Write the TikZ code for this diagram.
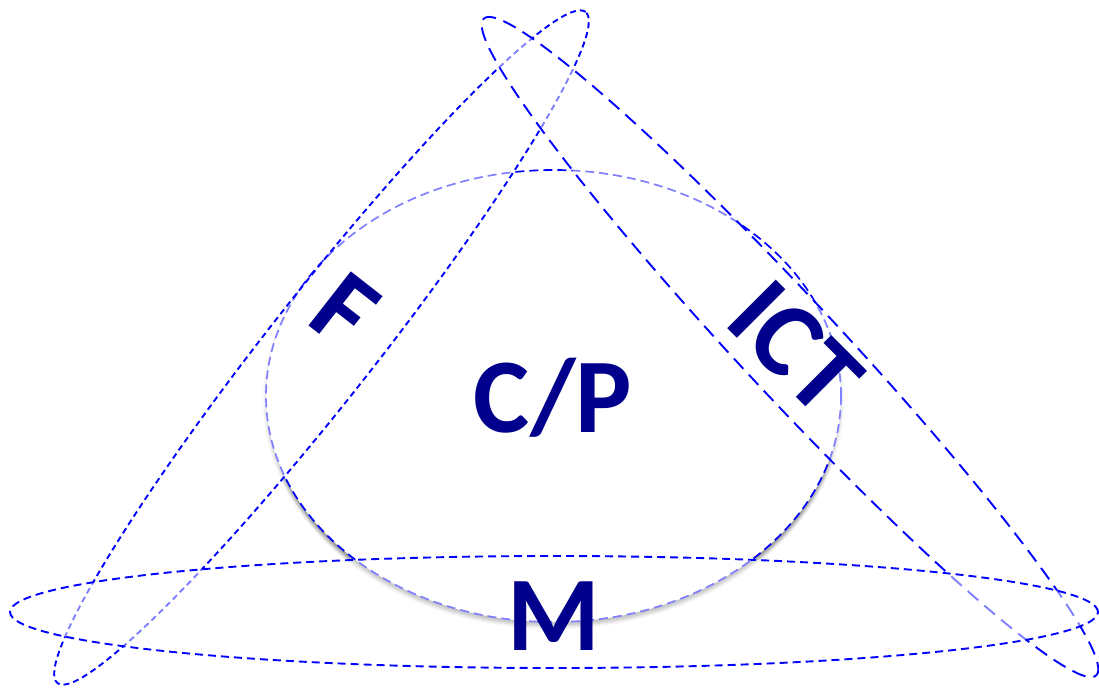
\documentclass[tikz,border=0pt]{standalone}
\usepackage{fontspec}
\newfontfamily\calib{Carlito}
\usetikzlibrary{shadows.blur}
\definecolor{lineblue}{RGB}{0,0,255}
\definecolor{textblue}{RGB}{0,0,140}
\begin{document}
\begin{tikzpicture}[x=1pt,y=-1pt,
  ring/.style={draw=lineblue, line width=1.9pt, fill=white, fill opacity=0.5},
  lbl/.style={text=textblue, font=\calib\bfseries\fontsize{106}{106}\selectfont, inner sep=0pt, text height=68pt, text depth=0pt}]
\useasboundingbox (0,0) rectangle (1099,688);
% central ellipse
\draw[draw=lineblue, line width=1.7pt, dash pattern=on 9pt off 5pt, fill=white,
  blur shadow={shadow xshift=0pt, shadow yshift=-4pt, shadow blur radius=3.5pt, shadow opacity=50}]
  (553.5,396) ellipse [x radius=287.5pt, y radius=226pt];
% F ellipse
\begin{scope}[shift={(321.5,347.5)}, rotate=51.8]
\draw[ring, dash pattern=on 6pt off 4pt] (0,0) ellipse [x radius=427pt, y radius=53pt];
\end{scope}
% ICT ellipse
\begin{scope}[shift={(790,347)}, rotate=-47]
\draw[ring, dash pattern=on 14pt off 8pt] (0,0) ellipse [x radius=449pt, y radius=49pt];
\end{scope}
% M ellipse
\draw[ring, dash pattern=on 8pt off 5pt] (554,612) ellipse [x radius=544pt, y radius=56pt];
% labels
\node[lbl, rotate=-38] (F) at (345,311) {F};
\node[lbl, rotate=-45] (ICT) at (795,348) {ICT};
\node[lbl] (CP) at (553,398) {C/P};
\node[lbl] (M) at (554,616) {M};
\end{tikzpicture}
\end{document}
